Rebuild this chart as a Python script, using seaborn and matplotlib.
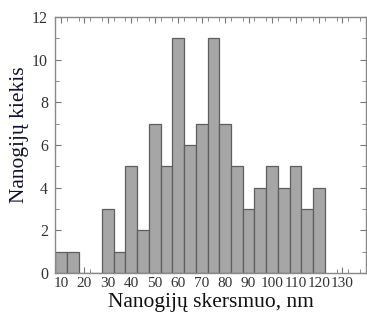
import numpy as np
import pandas as pd
import matplotlib
matplotlib.use("Agg")
import matplotlib.pyplot as plt
from matplotlib.ticker import MultipleLocator, FixedLocator
import seaborn as sns

# bin centres (nm) and counts
diameters = [10, 15, 20, 25, 30, 35, 40, 45, 50, 55, 60, 65,
             70, 75, 80, 85, 90, 95, 100, 105, 110, 115, 120]
counts = [1, 1, 0, 0, 3, 1, 5, 2, 7, 5, 11, 6,
          7, 11, 7, 5, 3, 4, 5, 4, 5, 3, 4]
x_ticks = [10, 20, 30, 40, 50, 60, 70, 80, 90, 100, 110, 120, 130]
y_ticks = [0, 2, 4, 6, 8, 10, 12]

df = pd.DataFrame({"d": diameters, "n": counts})

sns.set_style("ticks")
plt.rcParams["font.family"] = ["Liberation Serif", "DejaVu Serif"]

fig = plt.figure(figsize=(3.67, 3.22), dpi=100)
ax = fig.add_axes([0.150, 0.152, 0.847, 0.795])

sns.histplot(data=df, x="d", weights="n", binwidth=5, binrange=(7.5, 122.5),
             color="#a6a6a6", edgecolor="#5e5e5e", linewidth=0.9, alpha=1.0,
             ax=ax)

ax.set_xlim(7.5, 140)
ax.set_ylim(0, 12)
ax.xaxis.set_major_locator(FixedLocator(x_ticks))
ax.xaxis.set_minor_locator(MultipleLocator(5, offset=2.5))
ax.yaxis.set_major_locator(FixedLocator(y_ticks))
ax.yaxis.set_minor_locator(MultipleLocator(1))
ax.set_xticklabels([str(t) for t in x_ticks])
ax.set_yticklabels([str(t) for t in y_ticks])

ax.tick_params(which="both", direction="in", top=True, right=True,
               color="#777777", labelcolor="#333333", pad=3)
ax.tick_params(axis="x", labelsize=11)
ax.tick_params(axis="y", labelsize=11.5, pad=5)
ax.tick_params(which="major", length=4, width=0.8)
ax.tick_params(which="minor", length=3, width=0.6)
for s in ax.spines.values():
    s.set_color("#888888")
    s.set_linewidth(1.0)

ax.set_xlabel("Nanogijų skersmuo, nm", fontsize=15.5, color="#111111", labelpad=2)
ax.set_ylabel("Nanogijų kiekis", fontsize=15.5, color="#111133")
ax.yaxis.set_label_coords(-0.085, 0.54)

fig.savefig("out.png", dpi=100)
